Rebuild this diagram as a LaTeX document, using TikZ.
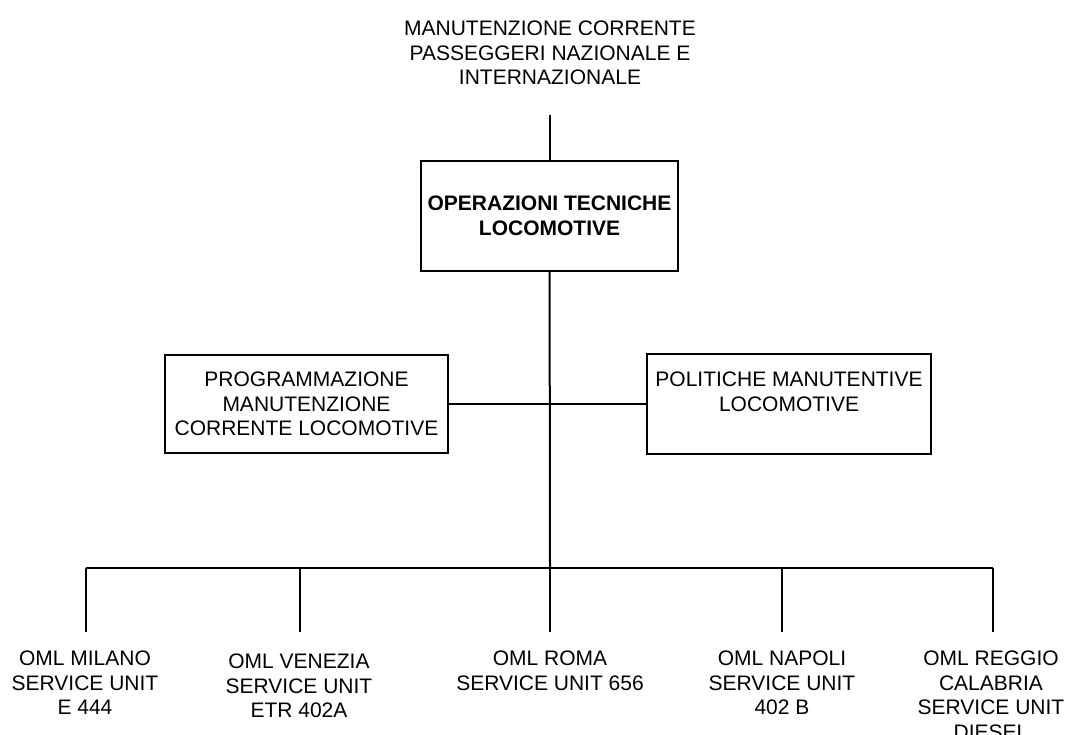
\documentclass[tikz,border=0pt]{standalone}
\usepackage{fontspec}
\setmainfont{Liberation Sans}
\begin{document}
\begin{tikzpicture}[x=1pt,y=-1pt,line width=2pt,
	font=\fontsize{21}{24.5}\selectfont,
	box/.style={draw, rectangle, align=center, inner sep=0pt},
	unit/.style={align=center, inner sep=0pt, anchor=north}]
	\useasboundingbox (0,0) rectangle (1075,735);
	\node (MC) at (550, 20)	[unit]	{MANUTENZIONE CORRENTE\\PASSEGGERI NAZIONALE E\\INTERNAZIONALE};
	\node (OT) at (549.5, 216)	[box, minimum width=257, minimum height=110, font=\fontsize{21}{24.5}\selectfont\bfseries]	{OPERAZIONI TECNICHE\\LOCOMOTIVE};
	\node (PM) at (306.5, 404)	[box, minimum width=283, minimum height=98]	{PROGRAMMAZIONE\\MANUTENZIONE\\CORRENTE LOCOMOTIVE};
	\node (PL) at (789, 404)	[box, minimum width=284, minimum height=100]	{POLITICHE MANUTENTIVE\\LOCOMOTIVE\\~};
	\coordinate (b1) at ( 86, 568);
	\coordinate (b2) at (300, 568);
	\coordinate (b3) at (550, 568);
	\coordinate (b4) at (782, 568);
	\coordinate (b5) at (993, 568);
	\node (U1) at ( 85, 650)	[unit]	{OML MILANO\\SERVICE UNIT\\E 444};
	\node (U2) at (299, 653)	[unit]	{OML VENEZIA\\SERVICE UNIT\\ETR 402A};
	\node (U3) at (550, 650)	[unit]	{OML ROMA\\SERVICE UNIT 656};
	\node (U4) at (782, 650)	[unit]	{OML NAPOLI\\SERVICE UNIT\\402 B};
	\node (U5) at (991, 650)	[unit]	{OML REGGIO\\CALABRIA\\SERVICE UNIT\\DIESEL};
	% connectors
	\draw[shorten <=29pt] (MC.south -| OT) -- (OT);
	\draw (OT) -- (b3);
	\draw (PM) -- (PL);
	\draw (b1) -- (b5);
	\draw[shorten >=18pt] (b1) -- (b1 |- U1.north);
	\draw[shorten >=21pt] (b2) -- (b2 |- U2.north);
	\draw[shorten >=18pt] (b3) -- (b3 |- U3.north);
	\draw[shorten >=18pt] (b4) -- (b4 |- U4.north);
	\draw[shorten >=18pt] (b5) -- (b5 |- U5.north);
\end{tikzpicture}
\end{document}
